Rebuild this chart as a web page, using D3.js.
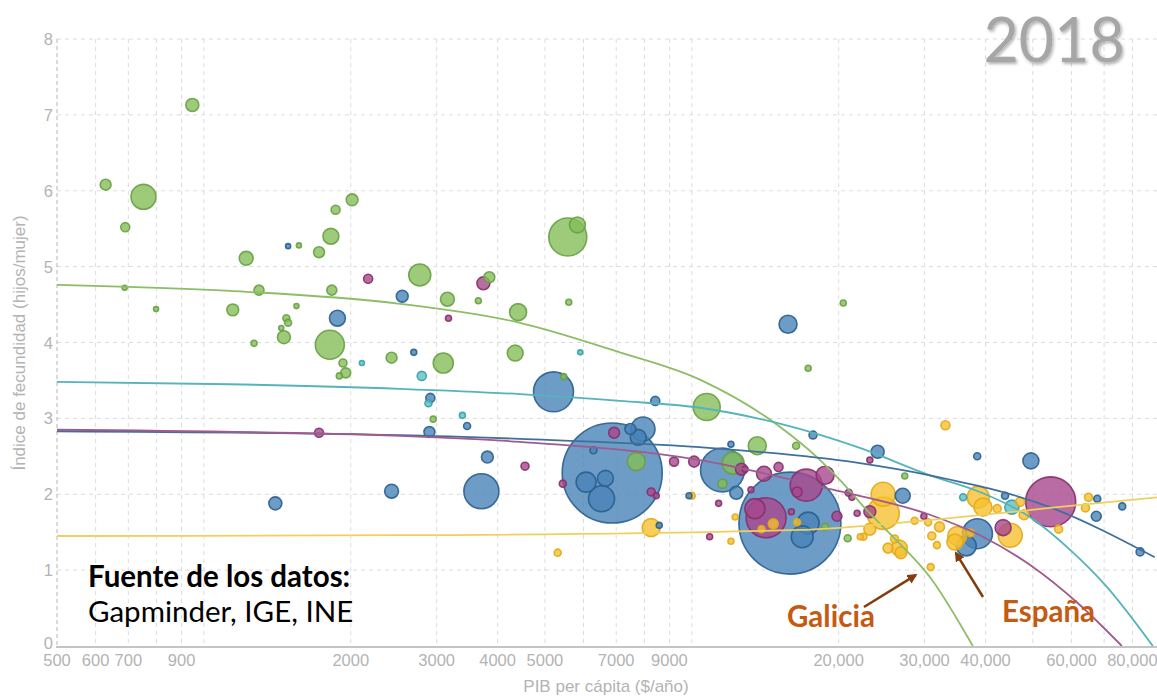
<!DOCTYPE html>
<html><head><meta charset="utf-8">
<script src="https://cdn.jsdelivr.net/npm/d3@7"></script>
<style>body{margin:0;background:#fff}svg{display:block}</style>
</head><body>
<svg id="chart" width="1157" height="699"></svg>
<script>
// ---------- DATA ----------
// [GDP per capita ($), fertility (children/woman), population (millions)]
const africa = [
 [947,7.13,22.7],[629,6.08,16],[752,5.92,84],[690,5.52,11],[2013,5.88,19],[1862,5.75,11],
 [1821,5.40,34],[1722,5.19,16],[1566,5.28,3.4],[1221,5.11,26],[688,4.72,3.4],[798,4.44,3.4],
 [1146,4.43,19],[1297,4.69,13.5],[1829,4.69,13.5],[1548,4.48,3.4],[1476,4.32,6.6],[1488,4.26,6.6],
 [1441,4.19,3.4],[1459,4.07,22.7],[1267,3.99,4.8],[1812,3.97,113],[1928,3.73,8.6],[1953,3.60,13.5],
 [1895,3.56,4.8],[2425,3.80,16],[2770,4.89,65],[3156,4.57,26],[3652,4.55,4.8],[3846,4.86,16],
 [4406,4.40,39],[5596,4.53,4.8],[5570,5.39,194],[5829,5.55,34],[3095,3.73,54],[4346,3.86,34],
 [2951,2.99,4.8],[5466,3.55,4.8],[7696,2.43,43.6],[10730,3.15,98],[13620,2.64,43.6],[12150,2.41,65],
 [11560,2.14,11],[17320,3.66,4.8],[20440,4.52,4.8],[16360,2.64,6.6],[18760,1.57,6.6],[20870,1.42,6.6],
 [27320,2.24,4.8]
];
const asia = [
 [1488,5.27,3.4],[1878,4.32,34],[2550,4.61,19],[1401,1.88,22.7],[2425,2.04,26],[2693,3.87,4.8],
 [2912,3.27,11],[3463,2.90,6.6],[2899,2.82,16],[5207,3.35,215],[3811,2.49,19],[3705,2.04,165],
 [6287,2.58,6.6],[6869,2.28,1346],[6073,2.16,54],[6654,2.21,34],[6532,1.94,91],[7484,2.86,16],
 [7943,2.86,77.5],[7767,2.75,34],[8416,3.23,11],[12030,2.66,4.8],[11560,2.32,260],[12340,2.02,22.7],
 [15890,1.62,1400],[17320,1.62,65],[16840,1.44,65],[15750,4.24,43.6],[17720,2.78,8.6],[24040,2.56,22.7],
 [27060,1.98,30],[38460,2.50,6.6],[49550,2.44,34.5],[43860,1.98,6.6],[38500,1.48,121],[36520,1.32,54],
 [67770,1.94,6.6],[67460,1.71,13.5],[76250,1.84,6.6],[82960,1.24,8.6],[9870,1.98,4.8],[8576,1.59,4.8]
];
const americas = [
 [2171,4.84,11],[3172,4.32,4.8],[3740,4.78,22.7],[1722,2.81,11],[4552,2.37,8.6],[5440,2.14,6.6],
 [6930,2.81,16],[8256,2.03,8.6],[8456,1.98,4.8],[9197,2.43,11],[10110,2.43,16],[12640,2.33,19],
 [12860,2.33,4.8],[14060,2.27,30],[15060,2.36,11],[13220,2.06,4.8],[11350,1.88,4.8],[10880,1.44,4.8],
 [14200,1.69,215],[13470,1.81,54],[17160,2.12,138],[18760,2.25,43.6],[16440,2.03,13.5],[16000,1.77,4.8],
 [19840,1.71,13.5],[20970,2.02,6.6],[21290,1.96,4.8],[21820,1.75,4.8],[23170,2.45,4.8],[23170,1.77,19],
 [29900,1.71,4.8],[43460,1.56,34.5],[54400,1.90,336]
];
const europe = [
 [5311,1.23,6.6],[8256,1.56,43.6],[10000,1.98,6.6],[12030,1.38,4.8],[12270,1.70,4.8],[14690,1.61,13.5],
 [13900,1.54,6.6],[16440,1.63,6.6],[22140,1.44,4.8],[24670,2.00,77.5],[24670,1.75,140],[23170,1.54,19],
 [22480,1.44,6.6],[25250,1.29,13.5],[26630,1.29,34.5],[26830,1.23,19],[26030,1.41,8.6],[28620,1.65,6.6],
 [30500,1.63,6.6],[32190,1.57,13.5],[31040,1.45,8.6],[31800,1.33,6.6],[30880,1.04,6.6],[33100,2.91,11],
 [35000,1.45,48.6],[34620,1.37,34.5],[37220,1.49,8.6],[38640,1.96,65],[39520,1.83,43.6],[42260,1.81,8.6],
 [44940,1.46,77.5],[47090,1.90,11],[47990,1.73,13.5],[56480,1.54,8.6],[65020,1.96,8.6],[64100,1.82,8.6]
];
const middleEast = [
 [2108,3.73,3.4],[2796,3.56,11],[2886,3.20,6.6],[3387,3.04,4.8],[5907,3.87,3.4],[35990,1.96,6.6],[45290,1.83,26.4]
];

// trend lines [GDP, fertility]
const trendAfrica = [[500,4.76],[1131,4.68],[2523,4.51],[4444,4.26],[7123,3.87],[10390,3.51],[15150,2.89],[18050,2.49],[20110,2.19],[22840,1.79],[25830,1.44],[30760,0.91],[37670,0]];
const trendMiddleEast = [[500,3.48],[1131,3.45],[2523,3.39],[4444,3.32],[7123,3.23],[10390,3.14],[15150,2.93],[22100,2.61],[30760,2.25],[38940,2.03],[49300,1.70],[59560,1.27],[70900,0.78],[88100,0]];
const trendAsia = [[500,2.83],[2523,2.78],[4444,2.73],[10390,2.62],[22100,2.41],[30760,2.25],[54170,1.83],[88900,1.17]];
const trendAmericas = [[500,2.85],[2523,2.77],[4444,2.69],[10390,2.45],[19460,2.06],[30760,1.73],[38940,1.46],[49300,1.07],[62440,0.54],[76100,0]];
const trendEurope = [[500,1.45],[2523,1.46],[16650,1.53],[23170,1.59],[30760,1.66],[42790,1.75],[54170,1.82],[90000,1.96]];

const xTickLabels = [500,600,700,900,2000,3000,4000,5000,7000,9000,20000,30000,40000,60000,80000];
const xGrid = [500,600,700,800,900,1000,2000,3000,4000,5000,6000,7000,8000,9000,10000,20000,30000,40000,50000,60000,70000,80000];
const yTicks = [0,1,2,3,4,5,6,7,8];
const yearLabel = "2018";

// ---------- STYLE ----------
const styles = {
  africa:{fill:"#84be59",stroke:"#68a044",line:"#8dbd66"},
  asia:{fill:"#4883b8",stroke:"#2a5f8d",line:"#3f6f9c"},
  americas:{fill:"#a8478c",stroke:"#86306c",line:"#a05a8e"},
  europe:{fill:"#f6c030",stroke:"#e3a818",line:"#f1cf5c"},
  middleEast:{fill:"#5ec0c8",stroke:"#3a9ea8",line:"#55b3bc"}
};

const svg = d3.select("#chart");
const x = d3.scaleLog().domain([500,89000]).range([57,1155]);
const y = d3.scaleLinear().domain([0,8]).range([646,39]);
const r = d3.scaleSqrt().domain([0,1400]).range([0,51]);

// grid
const g = svg.append("g");
g.selectAll(".vg").data(xGrid.slice(1)).join("line")
 .attr("x1",d=>x(d)).attr("x2",d=>x(d)).attr("y1",y(8)).attr("y2",y(0))
 .attr("stroke","#dcdcdc").attr("stroke-dasharray","4,4");
g.selectAll(".hg").data(yTicks.slice(1)).join("line")
 .attr("x1",x(500)).attr("x2",1157).attr("y1",d=>y(d)).attr("y2",d=>y(d))
 .attr("stroke","#dcdcdc").attr("stroke-dasharray","4,4");
g.append("line").attr("x1",x(500)).attr("x2",x(500)).attr("y1",y(8)).attr("y2",y(0))
 .attr("stroke","#b5b5b5").attr("stroke-dasharray","4,3");
g.append("line").attr("x1",x(500)-1).attr("x2",1157).attr("y1",y(0)+1).attr("y2",y(0)+1)
 .attr("stroke","#c4c4c4").attr("stroke-width",2);

// tick labels
const fmt = d => d >= 10000 ? d3.format(",")(d) : String(d);
svg.selectAll(".xt").data(xTickLabels).join("text")
 .attr("x",d=>x(d)).attr("y",666).attr("text-anchor","middle")
 .attr("font-family","Liberation Sans, Arial, sans-serif").attr("font-size",16.5)
 .attr("fill","#b3b3b3").text(fmt);
svg.selectAll(".yt").data(yTicks).join("text")
 .attr("x",53).attr("y",d=>d===0 ? y(d)+3 : y(d)+6).attr("text-anchor","end")
 .attr("font-family","Liberation Sans, Arial, sans-serif").attr("font-size",16.5)
 .attr("fill","#b3b3b3").text(d=>d);

// axis titles
svg.append("text").attr("transform","translate(25,343) rotate(-90)").attr("text-anchor","middle")
 .attr("font-family","Liberation Sans, Arial, sans-serif").attr("font-size",17).attr("fill","#b3b3b3")
 .text("Índice de fecundidad (hijos/mujer)");
svg.append("text").attr("x",606).attr("y",692).attr("text-anchor","middle")
 .attr("font-family","Liberation Sans, Arial, sans-serif").attr("font-size",17).attr("fill","#b3b3b3")
 .text("PIB per cápita ($/año)");

// year
const defs = svg.append("defs");
const f = defs.append("filter").attr("id","sh").attr("x","-10%").attr("y","-10%").attr("width","130%").attr("height","140%");
f.append("feDropShadow").attr("dx",1.5).attr("dy",2).attr("stdDeviation",1.5).attr("flood-color","#000").attr("flood-opacity",0.3);
svg.append("text").attr("x",1125).attr("y",62).attr("text-anchor","end")
 .attr("font-family","Lato, 'Open Sans', sans-serif").attr("font-size",61).attr("fill","#a6a6a6")
 .attr("filter","url(#sh)").text(yearLabel);

// clip
defs.append("clipPath").attr("id","plot").append("rect")
 .attr("x",x(500)).attr("y",y(8)).attr("width",1157-x(500)).attr("height",y(0)-y(8));

// bubbles
const all = [];
[["africa",africa],["asia",asia],["americas",americas],["europe",europe],["middleEast",middleEast]]
 .forEach(([k,arr])=>arr.forEach(d=>all.push({region:k,gdp:d[0],fert:d[1],pop:d[2]})));
all.sort((a,b)=>b.pop-a.pop);
svg.append("g").selectAll("circle").data(all).join("circle")
 .attr("cx",d=>x(d.gdp)).attr("cy",d=>y(d.fert)).attr("r",d=>Math.max(2.5,r(d.pop)))
 .attr("fill",d=>styles[d.region].fill).attr("fill-opacity",0.8)
 .attr("stroke",d=>styles[d.region].stroke).attr("stroke-width",1.6).attr("stroke-opacity",0.9);

// trend lines
const line = d3.line().x(d=>x(d[0])).y(d=>y(d[1])).curve(d3.curveMonotoneX);
const lg = svg.append("g").attr("clip-path","url(#plot)");
[["africa",trendAfrica],["middleEast",trendMiddleEast],["asia",trendAsia],["americas",trendAmericas],["europe",trendEurope]]
 .forEach(([k,arr])=>{
   lg.append("path").datum(arr).attr("d",line).attr("fill","none")
     .attr("stroke",styles[k].line).attr("stroke-width",1.8);
 });

// source note
svg.append("text").attr("x",88).attr("y",587).attr("font-family","Lato, 'Open Sans', sans-serif")
 .attr("font-weight","bold").attr("font-size",29.5).attr("fill","#000").text("Fuente de los datos:");
svg.append("text").attr("x",88).attr("y",622).attr("font-family","Lato, 'Open Sans', sans-serif")
 .attr("font-size",29.5).attr("fill","#000").text("Gapminder, IGE, INE");

// annotations
const arrowCol = "#843c0c";
defs.append("marker").attr("id","ah").attr("viewBox","0 0 10 10").attr("refX",8).attr("refY",5)
 .attr("markerWidth",4).attr("markerHeight",4).attr("orient","auto")
 .append("path").attr("d","M0,0L10,5L0,10z").attr("fill",arrowCol);
const galicia = europe[22], espana = europe[25];
svg.append("line").attr("x1",864).attr("y1",607).attr("x2",x(galicia[0])-15).attr("y2",y(galicia[1])+8)
 .attr("stroke",arrowCol).attr("stroke-width",2.5).attr("marker-end","url(#ah)");
svg.append("line").attr("x1",983).attr("y1",597).attr("x2",x(espana[0])+1).attr("y2",y(espana[1])+11)
 .attr("stroke",arrowCol).attr("stroke-width",2.5).attr("marker-end","url(#ah)");
svg.append("text").attr("x",787).attr("y",627).attr("font-family","Lato, 'Open Sans', sans-serif")
 .attr("font-weight","bold").attr("font-size",29.5).attr("fill","#c55a11").text("Galicia");
svg.append("text").attr("x",1002).attr("y",622).attr("font-family","Lato, 'Open Sans', sans-serif")
 .attr("font-weight","bold").attr("font-size",29.5).attr("fill","#c55a11").text("España");
</script>
</body></html>
